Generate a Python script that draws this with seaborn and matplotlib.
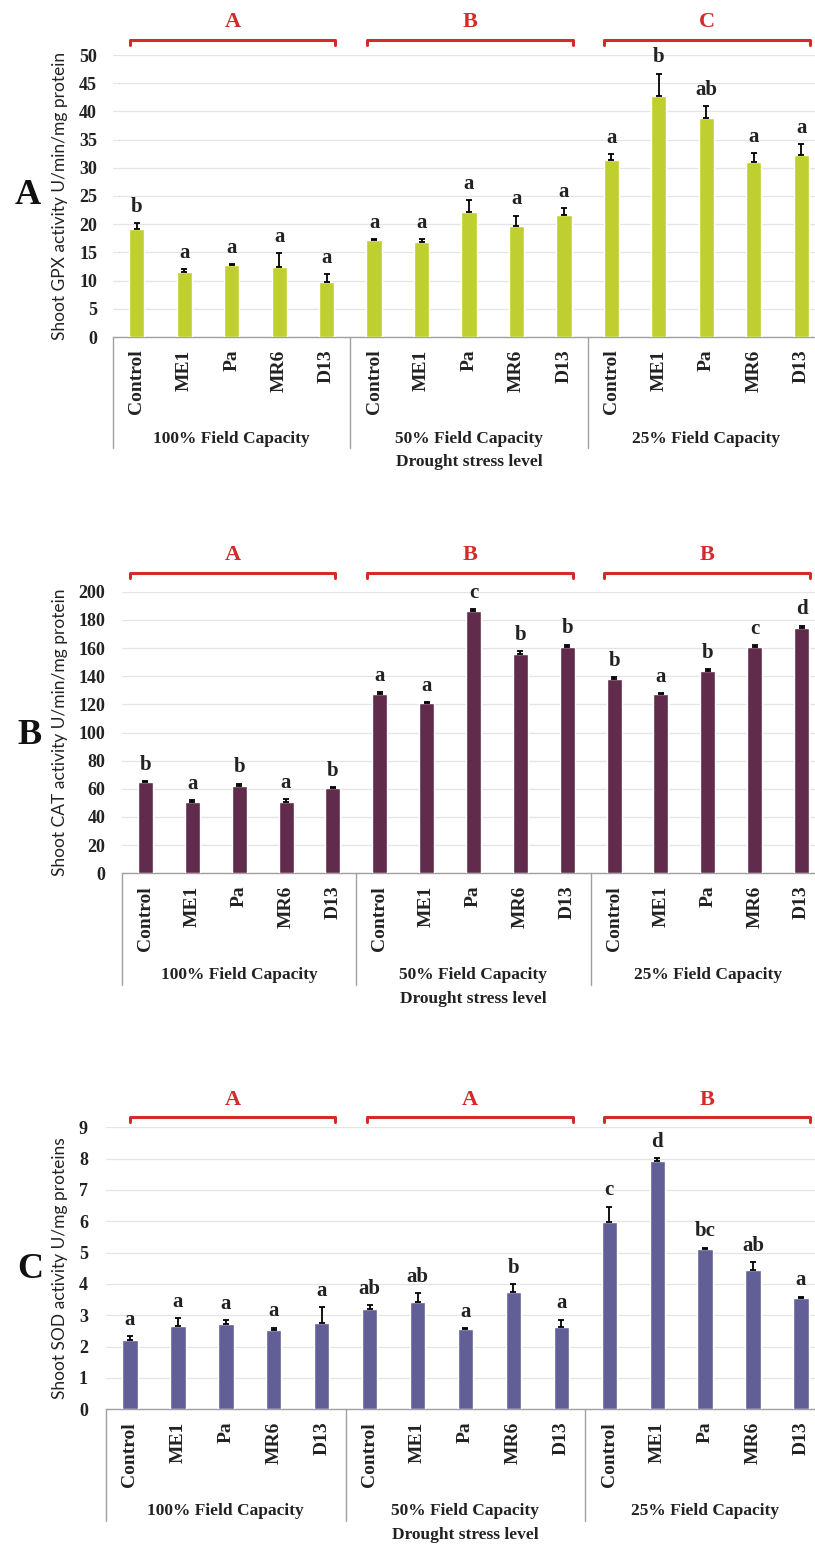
import numpy as np
import pandas as pd
import seaborn as sns
import matplotlib.pyplot as plt
from matplotlib.transforms import blended_transform_factory

treatments = ["Control", "ME1", "Pa", "MR6", "D13"]
levels = ["100% Field Capacity", "50% Field Capacity", "25% Field Capacity"]

# Shoot GPX activity
gpx_mean = [19.1, 11.5, 12.7, 12.5, 9.8, 17.2, 16.8, 22.2, 19.6, 21.6, 31.4, 42.7, 38.8, 31.1, 32.2]
gpx_err = [1.1, 0.5, 0.25, 2.4, 1.3, 0.2, 0.5, 2.1, 1.9, 1.3, 1.0, 4.0, 2.2, 1.5, 2.0]
gpx_letters = ["b", "a", "a", "a", "a", "a", "a", "a", "a", "a", "a", "b", "ab", "a", "a"]
gpx_groups = ["A", "B", "C"]

# Shoot CAT activity
cat_mean = [64.6, 50.6, 62.2, 50.6, 60.4, 127.1, 120.7, 186.3, 155.8, 160.9, 138.0, 127.1, 143.9, 160.5, 174.4]
cat_err = [1.0, 1.5, 1.5, 2.0, 1.0, 1.5, 1.0, 1.5, 2.0, 1.5, 1.5, 1.0, 1.0, 1.5, 1.5]
cat_letters = ["b", "a", "b", "a", "b", "a", "a", "c", "b", "b", "b", "a", "b", "c", "d"]
cat_groups = ["A", "B", "B"]

# Shoot SOD activity
sod_mean = [2.21, 2.67, 2.72, 2.52, 2.76, 3.20, 3.43, 2.56, 3.74, 2.64, 5.97, 7.94, 5.13, 4.43, 3.55]
sod_err = [0.13, 0.25, 0.13, 0.09, 0.51, 0.12, 0.27, 0.02, 0.26, 0.22, 0.50, 0.08, 0.03, 0.27, 0.05]
sod_letters = ["a", "a", "a", "a", "a", "ab", "ab", "a", "b", "a", "c", "d", "bc", "ab", "a"]
sod_groups = ["A", "A", "B"]

W, H = 815, 1544
sns.set_style("white")
plt.rcParams["font.family"] = ["Liberation Serif", "DejaVu Serif"]

fig = plt.figure(figsize=(W / 100, H / 100), dpi=100)

RED = "#d42a2a"
GRID = "#e4e4e4"
LINE = "#a0a0a0"
TXT = "#222222"

# bracket spans in figure pixels (same for all panels)
brackets = [(130, 335), (367, 573), (604, 810)]


def panel(rect, means, errs, letters, groups, color, ymax, step, ylabel,
          tick_pad, ylab_x, br_y, gl_y, tag, tag_xy):
    ax = fig.add_axes(rect)
    keys = [f"{lv}|{t}" for lv in levels for t in treatments]
    df = pd.DataFrame({"key": keys, "mean": means})
    sns.barplot(data=df, x="key", y="mean", order=keys, color=color,
                width=0.32, saturation=1, ax=ax, zorder=3)
    x = np.arange(len(keys))
    ax.errorbar(x, means, yerr=[np.zeros(len(x)), errs], fmt="none",
                ecolor="black", elinewidth=1.3, capsize=2.3, capthick=1.3, zorder=4)
    for xi, m, e, lt in zip(x, means, errs, letters):
        ax.annotate(lt, (xi, m + e), xytext=(0, 4.5), textcoords="offset points",
                    ha="center", va="bottom", fontsize=15, fontweight="bold", color=TXT)

    ax.set_xlim(-0.5, 14.5)
    ax.set_ylim(0, ymax)
    ax.set_yticks(np.arange(0, ymax + step / 2, step))
    ax.yaxis.grid(True, color=GRID, lw=0.9, zorder=0)
    ax.set_axisbelow(True)
    for s in ["top", "right", "left"]:
        ax.spines[s].set_visible(False)
    ax.spines["bottom"].set_color(LINE)
    ax.spines["bottom"].set_linewidth(1.0)
    ax.tick_params(axis="y", length=0, pad=tick_pad, labelsize=13, labelcolor=TXT)
    for lab in ax.get_yticklabels():
        lab.set_fontweight("bold")
    ax.set_xticks(x)
    ax.set_xticklabels(treatments * 3, rotation=90, fontsize=14, fontweight="bold", color=TXT)
    ax.tick_params(axis="x", length=0, pad=9)
    ax.set_xlabel("")
    ax.set_ylabel(ylabel, family=["Lato", "DejaVu Sans"], fontsize=12.5, color=TXT)
    ax.yaxis.set_label_coords(ylab_x, 0.5)

    tr = blended_transform_factory(ax.transData, ax.transAxes)
    for xv in [-0.5, 4.5, 9.5, 14.5]:
        ax.plot([xv, xv], [0, -0.395], transform=tr, clip_on=False, color=LINE, lw=1.0)
    for g, lv in enumerate(levels):
        ax.text(g * 5 + 2, -0.36, lv, transform=tr, ha="center", va="center",
                fontsize=12.5, fontweight="bold", color=TXT)
    ax.text(7, -0.445, "Drought stress level", transform=tr, ha="center", va="center",
            fontsize=12.5, fontweight="bold", color=TXT)

    ftr = blended_transform_factory(fig.transFigure, ax.transAxes)
    drop = 5 / (rect[3] * H)
    for (x0, x1), gl in zip(brackets, groups):
        ax.plot([x0 / W, x0 / W, x1 / W, x1 / W], [br_y - drop, br_y, br_y, br_y - drop],
                transform=ftr, clip_on=False, color=RED, lw=2.2, solid_joinstyle="round")
        ax.text((x0 + x1) / 2 / W, gl_y, gl, transform=ftr, ha="center", va="center",
                color=RED, fontsize=16, fontweight="bold")

    fig.text(tag_xy[0] / W, 1 - tag_xy[1] / H, tag, ha="center", va="center",
             fontsize=26, fontweight="bold", color="#111111")
    return ax


def rect_px(left, top, bottom, right=825):
    return [left / W, 1 - bottom / H, (right - left) / W, (bottom - top) / H]


panel(rect_px(113, 55, 337), gpx_mean, gpx_err, gpx_letters, gpx_groups, "#c0cf30",
      50, 5, "Shoot GPX activity U/min/mg protein", 11.5, -0.063, 1.053, 1.117, "A", (28, 195))
panel(rect_px(122, 591.7, 873.3), cat_mean, cat_err, cat_letters, cat_groups, "#612c4b",
      200, 20, "Shoot CAT activity U/min/mg protein", 12, -0.077, 1.065, 1.13, "B", (29, 735))
panel(rect_px(106, 1127.3, 1409.3), sod_mean, sod_err, sod_letters, sod_groups, "#625f97",
      9, 1, "Shoot SOD activity U/mg proteins", 13, -0.053, 1.037, 1.097, "C", (30, 1270))

fig.savefig("out.png", dpi=100)
